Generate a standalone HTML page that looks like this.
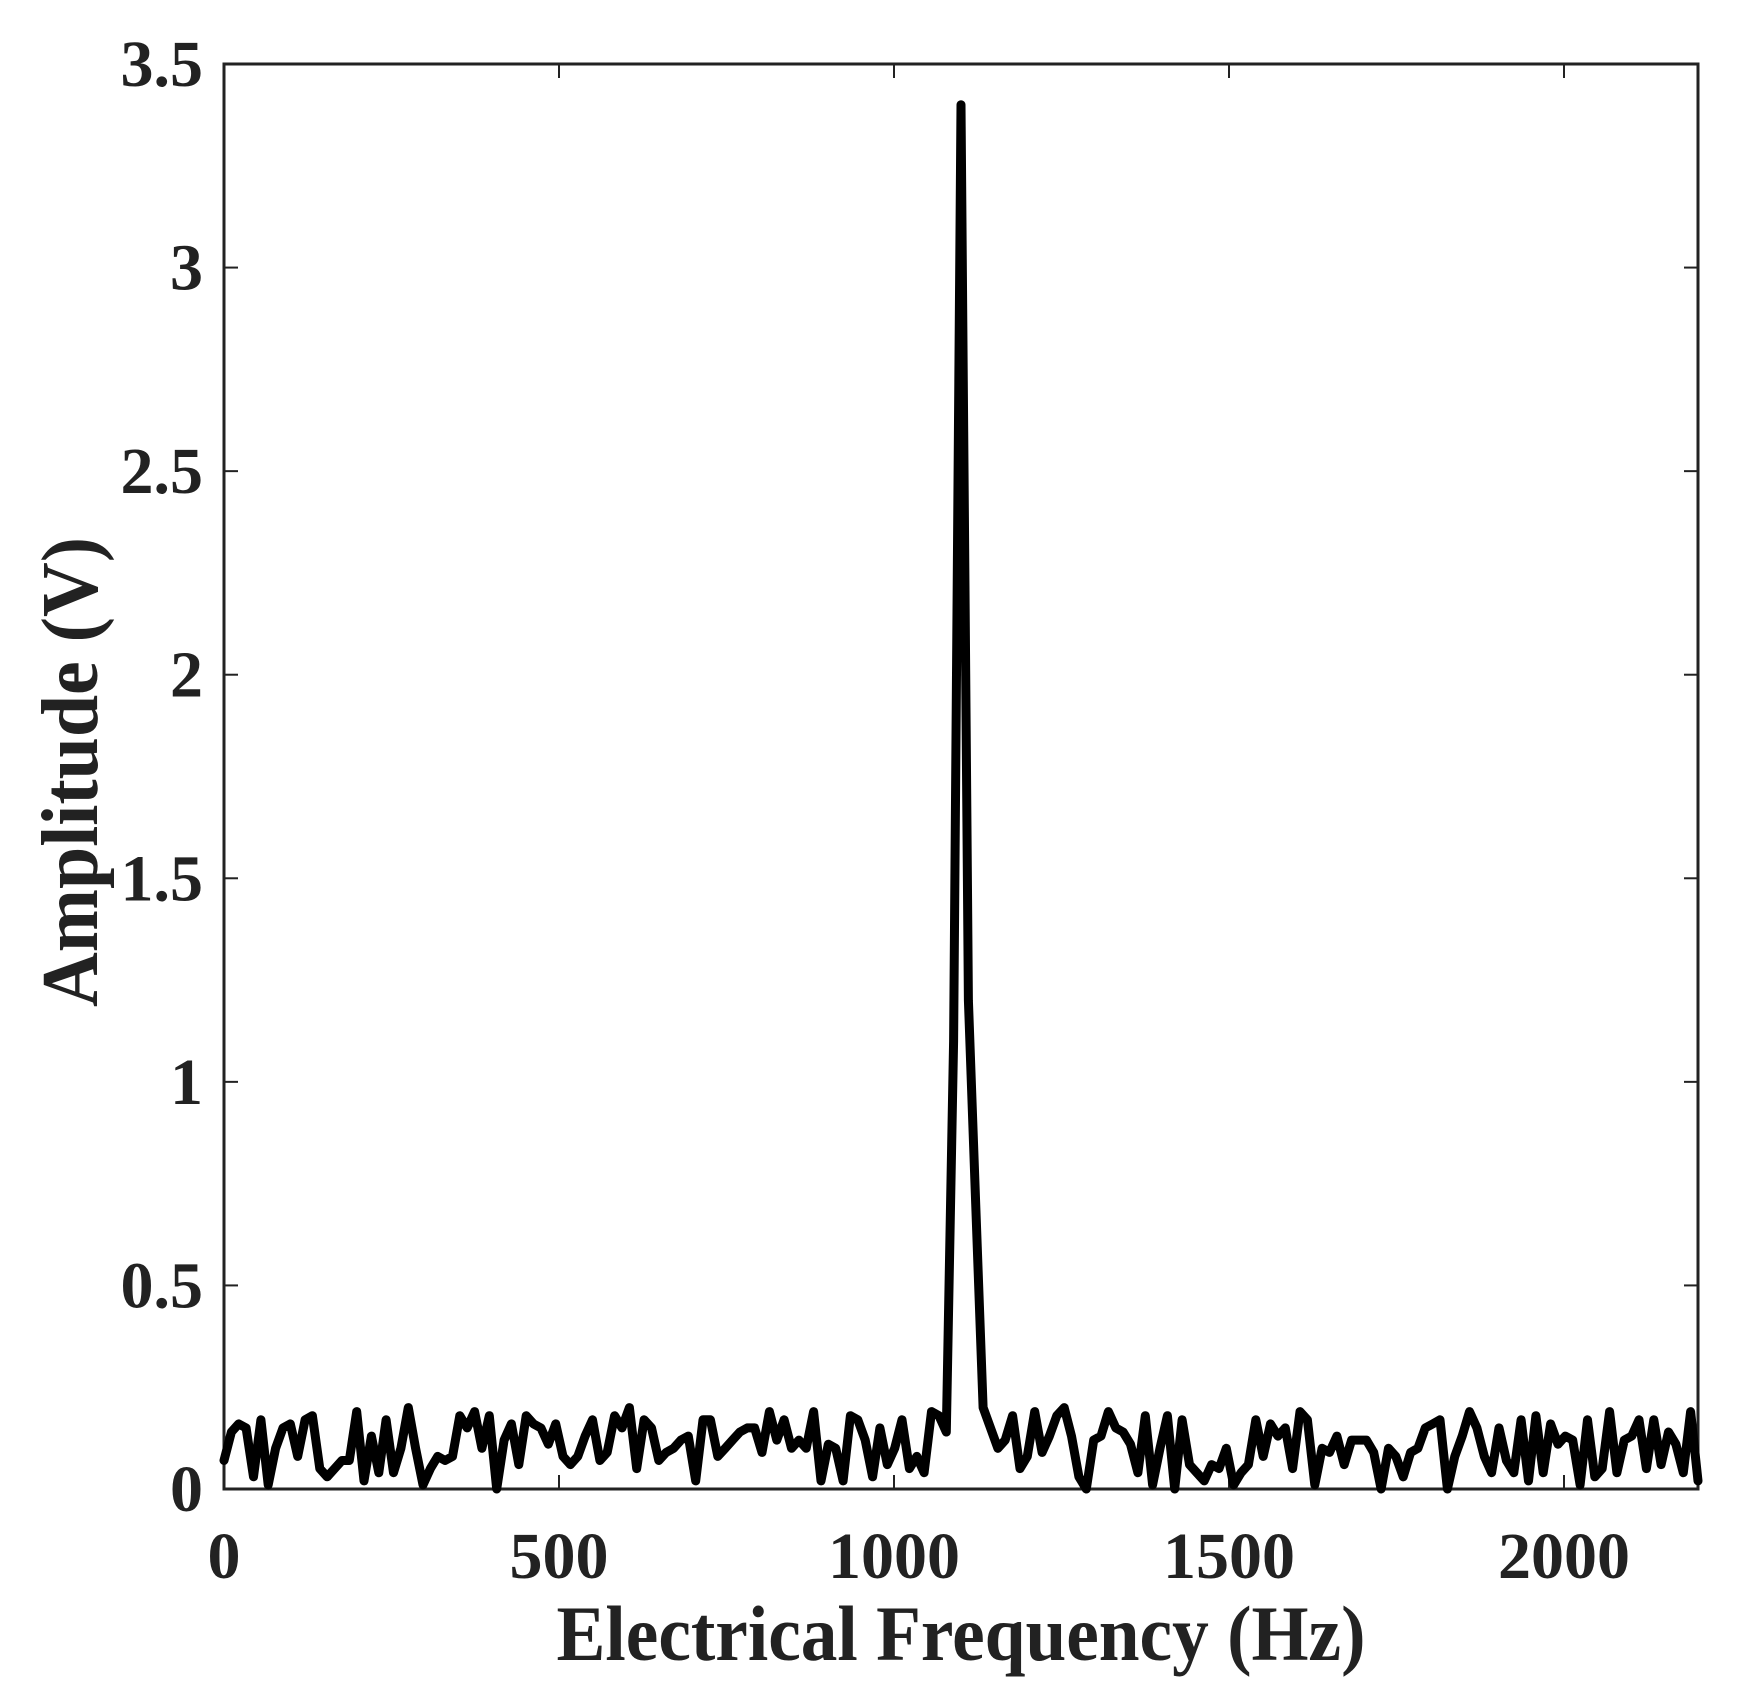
<!DOCTYPE html>
<html><head><meta charset="utf-8"><style>
html,body{margin:0;padding:0;background:#fff;}
svg{display:block;}
text{font-family:"Liberation Serif",serif;font-weight:bold;fill:#222;}
</style></head><body>
<svg id="chart" width="1741" height="1705" viewBox="0 0 1741 1705" xmlns="http://www.w3.org/2000/svg">
<rect x="0" y="0" width="1741" height="1705" fill="#fff"/>
<g id="ticks"></g>
<g id="labels"></g>
<rect x="224" y="64" width="1474" height="1425" fill="none" stroke="#222" stroke-width="3"/>
<g id="series"></g>
<text x="961" y="1660" font-size="78" text-anchor="middle" textLength="809" lengthAdjust="spacingAndGlyphs">Electrical Frequency (Hz)</text>
<text transform="translate(97,772) rotate(-90)" font-size="80" text-anchor="middle" textLength="470" lengthAdjust="spacingAndGlyphs">Amplitude (V)</text>
</svg>
<script>
const freqStep = 11;
const amplitudes = [
0.07,0.14,0.16,0.15,0.03,0.17,0.01,0.10,0.15,0.16,
0.08,0.17,0.18,0.05,0.03,0.05,0.07,0.07,0.19,0.02,
0.13,0.04,0.17,0.04,0.10,0.20,0.10,0.01,0.05,0.08,
0.07,0.08,0.18,0.15,0.19,0.10,0.18,0.00,0.12,0.16,
0.06,0.18,0.16,0.15,0.11,0.16,0.08,0.06,0.08,0.13,
0.17,0.07,0.09,0.18,0.15,0.20,0.05,0.17,0.15,0.07,
0.09,0.10,0.12,0.13,0.02,0.17,0.17,0.08,0.10,0.12,
0.14,0.15,0.15,0.09,0.19,0.12,0.17,0.10,0.12,0.10,
0.19,0.02,0.11,0.10,0.02,0.18,0.17,0.12,0.03,0.15,
0.06,0.10,0.17,0.05,0.08,0.04,0.19,0.18,
0.14,1.10,3.40,1.20,0.70,0.20,
0.15,0.10,0.12,0.18,0.05,0.08,0.19,0.09,0.13,0.18,
0.20,0.13,0.03,0.00,0.12,0.13,0.19,0.15,0.14,0.11,
0.04,0.18,0.01,0.10,0.18,0.00,0.17,0.06,0.04,0.02,
0.06,0.05,0.10,0.01,0.04,0.06,0.17,0.08,0.16,0.13,
0.15,0.05,0.19,0.17,0.01,0.10,0.09,0.13,0.06,0.12,
0.12,0.12,0.09,0.00,0.10,0.08,0.03,0.09,0.10,0.15,
0.16,0.17,0.00,0.08,0.13,0.19,0.15,0.08,0.04,0.15,
0.07,0.04,0.17,0.02,0.18,0.04,0.16,0.11,0.13,0.12,
0.01,0.17,0.03,0.05,0.19,0.04,0.12,0.13,0.17,0.05,
0.17,0.06,0.14,0.11,0.04,0.19,0.02
];
const xTicks = [0,500,1000,1500,2000];
const xTickLabels = ["0","500","1000","1500","2000"];
const yTicks = [0,0.5,1,1.5,2,2.5,3,3.5];
const yTickLabels = ["0","0.5","1","1.5","2","2.5","3","3.5"];
const xDomain = [0,2200];
const yDomain = [0,3.5];

const L=224,R=1698,T=64,B=1489;
const sx = v => L + (v - xDomain[0])/(xDomain[1]-xDomain[0])*(R-L);
const sy = v => B - (v - yDomain[0])/(yDomain[1]-yDomain[0])*(B-T);
const NS="http://www.w3.org/2000/svg";
const ticksG=document.getElementById('ticks');
const labelsG=document.getElementById('labels');
const seriesG=document.getElementById('series');
function mk(tag,attrs){const e=document.createElementNS(NS,tag);for(const k in attrs)e.setAttribute(k,attrs[k]);return e;}

xTicks.forEach((v,i)=>{
  const x=sx(v);
  const t1=mk('line',{x1:x,y1:B,x2:x,y2:B-14,stroke:'#222','stroke-width':2});
  
  
  ticksG.appendChild(t1);
  const t2=mk('line',{x1:x,y1:T,x2:x,y2:T+14,stroke:'#222','stroke-width':2});
  
  
  ticksG.appendChild(t2);
  const lb=mk('text',{x:x,y:1578,'font-size':66,'text-anchor':'middle'});
  lb.textContent=xTickLabels[i];
  
  
  labelsG.appendChild(lb);
});
yTicks.forEach((v,i)=>{
  const y=sy(v);
  const t1=mk('line',{x1:L,y1:y,x2:L+14,y2:y,stroke:'#222','stroke-width':2});
  
  
  ticksG.appendChild(t1);
  const t2=mk('line',{x1:R,y1:y,x2:R-14,y2:y,stroke:'#222','stroke-width':2});
  
  
  ticksG.appendChild(t2);
  const lb=mk('text',{x:203,y:y+22,'font-size':66,'text-anchor':'end'});
  lb.textContent=yTickLabels[i];
  
  
  labelsG.appendChild(lb);
});
const pts=amplitudes.map((a,i)=>sx(i*freqStep).toFixed(1)+','+sy(a).toFixed(1)).join(' ');
const line=mk('polyline',{points:pts,fill:'none',stroke:'#000','stroke-width':9,'stroke-linejoin':'round','stroke-linecap':'round'});


seriesG.appendChild(line);
</script>
</body></html>
